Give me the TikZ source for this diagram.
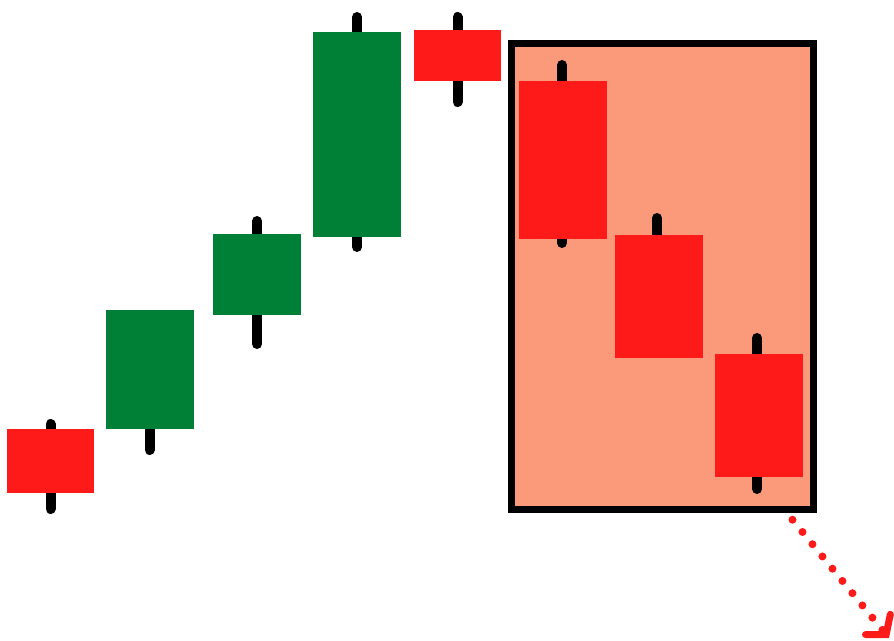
\documentclass[tikz,border=0pt]{standalone}
\usetikzlibrary{arrows.meta}
\definecolor{cred}{HTML}{FF1A1A}
\definecolor{cgreen}{HTML}{008037}
\definecolor{csalmon}{HTML}{FA9A7B}
\tikzset{
  wick/.style={line width=10pt, line cap=round, black},
  redbody/.style={fill=cred},
  greenbody/.style={fill=cgreen},
  panel/.style={fill=csalmon, draw=black, line width=7pt},
  trend/.style={cred, line width=8pt, line cap=round, dash pattern=on 0pt off 15.8pt,
    -{Straight Barb[length=13pt,width=32pt,line width=7pt,line cap=round]}}
}
\begin{document}
\begin{tikzpicture}[x=1pt,y=-1pt]
\useasboundingbox (0,0) rectangle (894,640);
\clip (0,0) rectangle (894,640);
% trend arrow (drawn first, partly under the panel border)
\coordinate (ts) at (782.5,507.5);
\coordinate (te) at (889,638);
\draw[trend] (ts) -- (te);
% candle 1
\draw[wick] (50.5,424) -- (50.5,509);
\fill[redbody] (7,429) rectangle (94,493);
% candle 2
\draw[wick] (149.5,420) -- (149.5,450);
\fill[greenbody] (106,310) rectangle (194,429);
% candle 3
\draw[wick] (257,221) -- (257,344);
\fill[greenbody] (213,234) rectangle (301,315);
% candle 4
\draw[wick] (357,17) -- (357,247);
\fill[greenbody] (313,32) rectangle (401,237);
% candle 5
\draw[wick] (457.5,17) -- (457.5,102);
\fill[redbody] (414,30) rectangle (501,81);
% panel
\draw[panel] (511.5,43.5) rectangle (813.5,509);
% candle 6
\draw[wick] (562,65) -- (562,243);
\fill[redbody] (519,81) rectangle (607,239);
% candle 7
\draw[wick] (657,218) -- (657,240);
\fill[redbody] (615,235) rectangle (703,358);
% candle 8
\draw[wick] (757,338) -- (757,489);
\fill[redbody] (715,354) rectangle (803,477);
\end{tikzpicture}
\end{document}
